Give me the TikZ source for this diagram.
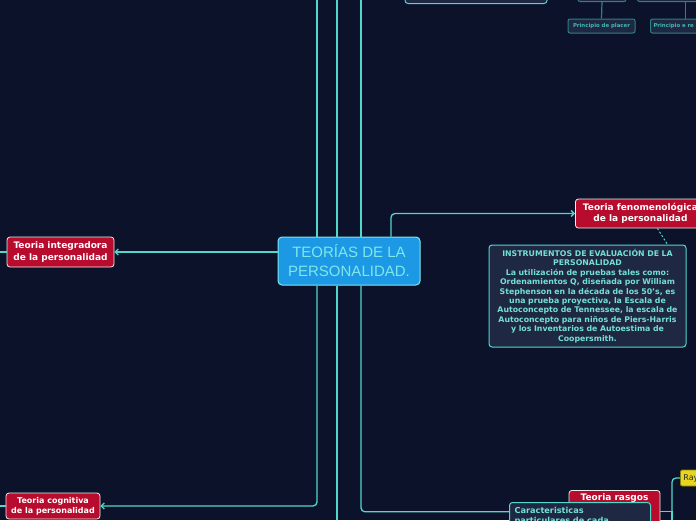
\documentclass[tikz,border=0pt]{standalone}
\usepackage{fontspec}
\setmainfont{DejaVu Sans}
\newfontfamily\fuentetitulo{Liberation Sans}
\usepackage{tikz}
\usetikzlibrary{positioning, arrows.meta, calc}
\definecolor{fondonoche}{RGB}{11, 18, 41}
\definecolor{turquesa}{RGB}{80, 216, 202}
\definecolor{turquesatenue}{RGB}{46, 128, 134}
\definecolor{pizarra}{RGB}{31, 40, 66}
\definecolor{azulraiz}{RGB}{29, 152, 229}
\definecolor{cianclaro}{RGB}{126, 232, 234}
\definecolor{rojotema}{RGB}{184, 12, 46}
\definecolor{amarillonota}{RGB}{232, 214, 30}

\begin{document}
\begin{tikzpicture}[x=1pt, y=-1pt,
    linea/.style={turquesa, line width=1.3pt, rounded corners=4pt},
    flecha/.style={linea, -{Straight Barb[length=3pt, width=6pt]}},
    tenue/.style={turquesatenue, line width=1.2pt},
    raizbox/.style={fill=azulraiz, draw=cianclaro, line width=1pt, rounded corners=4pt,
      text=cianclaro, align=center, font=\fuentetitulo\fontsize{15}{19}\selectfont},
    tema/.style={fill=rojotema, draw=white!85!gray, line width=0.8pt, rounded corners=3pt,
      text=white, align=center, inner xsep=5pt, inner ysep=3pt,
      font=\bfseries\fontsize{9}{11.5}\selectfont},
    nota/.style={fill=pizarra, draw=turquesa, line width=1pt, rounded corners=3pt,
      text=turquesa!80!white, align=center, inner sep=4pt,
      font=\bfseries\fontsize{7.8}{9.45}\selectfont},
    hoja/.style={fill=pizarra, draw=turquesatenue, line width=1pt, rounded corners=2pt,
      text=turquesatenue!40!turquesa, inner xsep=3pt, inner ysep=2pt,
      font=\bfseries\fontsize{5.4}{6}\selectfont}]
  \clip (0,0) rectangle (696,520);
  \fill[fondonoche] (0,0) rectangle (696,520);

  % nodo central y temas
  \node[raizbox, minimum width=142pt, minimum height=48pt] (raiz) at (349,261) {TEORÍAS DE LA\\PERSONALIDAD.};
  \node[tema, minimum width=107pt, minimum height=30pt] (integradora) at (60.5,252) {Teoria integradora\\de la personalidad};
  \node[tema, minimum width=94pt, minimum height=26pt, font=\bfseries\fontsize{8}{10}\selectfont] (cognitiva) at (53,506) {Teoria cognitiva\\de la personalidad};
  \node[tema, anchor=west, minimum width=130pt, minimum height=29pt] (fenomenologica) at (575,213.5) {Teoria fenomenológica\\de la personalidad};
  \node[nota, text width=189pt, minimum height=102pt] (instrumentos) at (587.5,296)
    {INSTRUMENTOS DE EVALUACIÓN DE LA\\PERSONALIDAD\\La utilización de pruebas tales como:\\Ordenamientos Q, diseñada por William\\Stephenson en la década de los 50’s, es\\una prueba proyectiva, la Escala de\\Autoconcepto de Tennessee, la escala de\\Autoconcepto para niños de Piers-Harris\\y los Inventarios de Autoestima de\\Coopersmith.};
  \node[tema, anchor=north, minimum width=91pt, text depth=30pt] (rasgos) at (614.5,490) {Teoria rasgos};
  \node[anchor=west, fill=amarillonota, draw=amarillonota!60!black, line width=0.8pt, rounded corners=2pt,
    text=black!85, text width=40pt, minimum height=16pt, inner sep=3pt, font=\fontsize{8}{9}\selectfont] (rayo) at (680,478) {Ray};

  % ramas de arriba (cortadas por el borde)
  \node[nota, anchor=south, minimum width=142pt, minimum height=22pt] (superior) at (476,4) {};
  \node[hoja, anchor=south, minimum width=48pt, minimum height=16pt] (padreuno) at (602,2) {};
  \node[hoja, anchor=south west, minimum width=96pt, minimum height=16pt] (padredos) at (637,2) {};
  \node[hoja, minimum width=67pt, minimum height=14pt] (placer) at (601.5,26) {Principio de placer};
  \node[hoja, anchor=west, minimum height=14pt, text width=60pt, align=left] (realidad) at (650,26) {Principio e re};
  \draw[tenue] (padreuno.south) -- (placer.north);
  \draw[tenue] (padredos.south) -- (padredos.south |- realidad.north);

  % lineas que salen del nodo central
  \foreach \x [count=\i] in {317,337,361} {
    \coordinate (tope\i) at (\x,0);
    \draw[linea] (tope\i) -- (raiz.north -| tope\i);
  }
  \coordinate (pie) at (337,520);
  \draw[linea] (raiz.south -| pie) -- (pie);
  \draw[flecha] (raiz.south -| tope1) |- (cognitiva.east);
  \draw[flecha] (raiz.south -| tope3) |- (rasgos.west);
  \draw[flecha] ([xshift=42pt]raiz.north) |- (fenomenologica.west);
  \draw[flecha] (raiz.west |- integradora.east) -- (integradora.east);
  \draw[turquesa, line width=1pt, dash pattern=on 2pt off 2pt] ([xshift=17pt]fenomenologica.south) -- ([xshift=80pt]instrumentos.north);

  % hijos fuera del borde
  \coordinate (izquno) at (0,252);
  \coordinate (izqdos) at (0,506);
  \coordinate (bus) at (672,520);
  \draw[linea] (integradora.west) -- (izquno);
  \draw[linea] (cognitiva.west) -- (izqdos);
  \draw[linea, rounded corners=0pt] (rasgos.east) -| (bus);
  \draw[linea] (bus) |- (rayo.west);

  \node[nota, anchor=north west, text width=131pt, align=left, inner sep=5pt,
    font=\bfseries\fontsize{8.2}{10}\selectfont] (caracteristicas) at (509,502) {Caracteristicas\\particulares de cada};
\end{tikzpicture}
\end{document}
